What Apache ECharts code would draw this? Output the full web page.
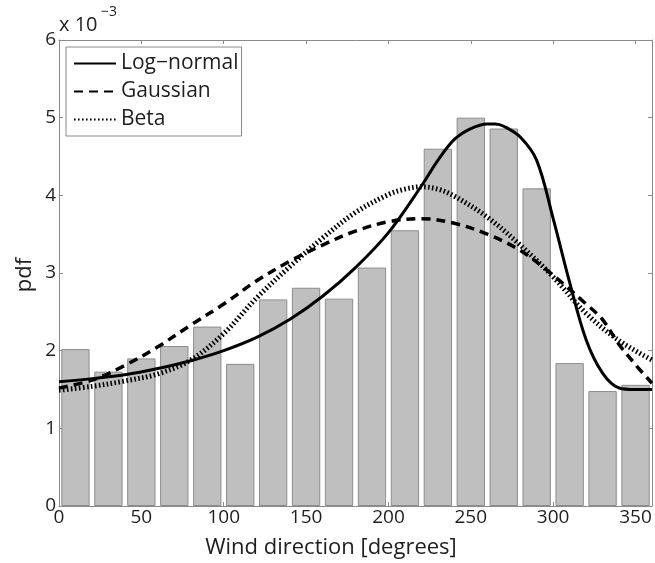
<!DOCTYPE html>
<html><head><meta charset="utf-8">
<script src="https://cdn.jsdelivr.net/npm/echarts@6/dist/echarts.min.js"></script>
<style>html,body{margin:0;padding:0;background:#fff}#c{width:655px;height:563px}</style>
</head><body><div id="c"></div>
<script>
// Histogram (values in units of 1e-3)
const binLabels = ['0-20','20-40','40-60','60-80','80-100','100-120','120-140','140-160','160-180','180-200','200-220','220-240','240-260','260-280','280-300','300-320','320-340','340-360'];
const barValues = [2.02,1.73,1.90,2.06,2.31,1.83,2.66,2.81,2.67,3.07,3.55,4.60,5.00,4.86,4.09,1.84,1.48,1.56];

// Fitted curves (x in degrees, y in units of 1e-3)
const logNormalX = [0,20,40,60,80,100,120,140,160,180,200,220,230,240,250,260,265,270,280,290,300,310,320,330,340,350,360];
const logNormalY = [1.60,1.64,1.69,1.77,1.87,2.00,2.17,2.40,2.70,3.07,3.52,4.12,4.45,4.72,4.86,4.92,4.92,4.89,4.75,4.45,3.70,2.88,2.14,1.71,1.52,1.50,1.50];
const gaussianX = [0,20,40,60,80,100,120,140,160,180,200,220,240,260,280,300,320,330,340,350,360];
const gaussianY = [1.52,1.62,1.81,2.05,2.33,2.60,2.90,3.15,3.36,3.54,3.66,3.70,3.64,3.50,3.29,2.97,2.60,2.40,2.08,1.82,1.58];
const betaX = [0,20,40,60,80,100,120,140,160,180,200,210,220,230,240,260,280,300,320,340,360];
const betaY = [1.49,1.54,1.61,1.70,1.88,2.22,2.68,3.08,3.45,3.78,4.01,4.08,4.11,4.08,3.99,3.72,3.36,2.95,2.48,2.13,1.88];

const xTicks = {min:0, max:360, interval:50};
const yTicks = {min:0, max:6, interval:1};

const FONT = 'Open Sans';
const AXIS = '#8a8a8a';
const TEXT = '#1e1e1e';
const pairs = (xs, ys) => xs.map((x, i) => [x, ys[i]]);

const chart = echarts.init(document.getElementById('c'), null, {renderer:'canvas'});
chart.setOption({
  backgroundColor: '#ffffff',
  animation: false,
  grid: {left: 59, right: 3, top: 40, bottom: 57, containLabel: false},
  legend: {
    data: ['Log−normal','Gaussian','Beta'],
    orient: 'vertical', left: 66, top: 47,
    itemWidth: 42, itemHeight: 14, itemGap: 7,
    padding: [6, 3, 6, 7],
    borderColor: '#8a8a8a', borderWidth: 1, backgroundColor: '#ffffff',
    itemStyle: {color: 'transparent', borderColor: 'transparent', borderWidth: 0, opacity: 0},
    textStyle: {fontFamily: FONT, fontSize: 21, color: TEXT}
  },
  xAxis: [
    {type:'value', min:xTicks.min, max:xTicks.max, interval:xTicks.interval, position:'bottom',
     axisLine:{show:true, onZero:false, lineStyle:{color:AXIS, width:1}},
     axisTick:{show:true, inside:true, length:4, lineStyle:{color:AXIS}},
     axisLabel:{fontFamily:FONT, fontSize:19, color:TEXT, margin:2, showMaxLabel:false},
     splitLine:{show:false}},
    {type:'category', data: binLabels, show:false, boundaryGap:true},
    {type:'value', min:xTicks.min, max:xTicks.max, interval:xTicks.interval, position:'top',
     axisLine:{show:true, onZero:false, lineStyle:{color:AXIS, width:1}},
     axisTick:{show:true, inside:true, length:4, lineStyle:{color:AXIS}},
     axisLabel:{show:false}, splitLine:{show:false}}
  ],
  yAxis: [
    {type:'value', min:yTicks.min, max:yTicks.max, interval:yTicks.interval, position:'left',
     axisLine:{show:true, onZero:false, lineStyle:{color:AXIS, width:1}},
     axisTick:{show:true, inside:true, length:4, lineStyle:{color:AXIS}},
     axisLabel:{fontFamily:FONT, fontSize:19, color:TEXT, margin:3},
     splitLine:{show:false}},
    {type:'value', min:yTicks.min, max:yTicks.max, interval:yTicks.interval, position:'right',
     axisLine:{show:true, onZero:false, lineStyle:{color:AXIS, width:1}},
     axisTick:{show:true, inside:true, length:4, lineStyle:{color:AXIS}},
     axisLabel:{show:false}, splitLine:{show:false}}
  ],
  graphic: [
    {type:'text', left: 59, top: 15, style:{text:'x 10', fontFamily:FONT, fontSize:20, fill:TEXT}},
    {type:'text', left: 101, top: 5, style:{text:'−3', fontFamily:FONT, fontSize:14, fill:TEXT}},
    {type:'text', x: 331, y: 548, style:{text:'Wind direction [degrees]', fontFamily:FONT, fontSize:22, fill:TEXT, align:'center', verticalAlign:'middle'}},
    {type:'text', x: 25, y: 275, rotation: Math.PI/2, style:{text:'pdf', fontFamily:FONT, fontSize:22, fill:TEXT, align:'center', verticalAlign:'middle'}}
  ],
  series: [
    {type:'bar', name:'hist', xAxisIndex:1, yAxisIndex:0, data: barValues, barWidth:'86%',
     itemStyle:{color:'#bfbfbf', borderColor:'#8c8c8c', borderWidth:1}, z:1, silent:true},
    {type:'line', name:'Log−normal', xAxisIndex:0, yAxisIndex:0, data: pairs(logNormalX, logNormalY),
     smooth:0.35, symbol:'none', lineStyle:{color:'#000', width:3, type:'solid'}, itemStyle:{color:'#000'}, z:5},
    {type:'line', name:'Gaussian', xAxisIndex:0, yAxisIndex:0, data: pairs(gaussianX, gaussianY),
     smooth:0.35, symbol:'none', lineStyle:{color:'#000', width:3.5, type:[9,6]}, itemStyle:{color:'#000'}, z:4},
    {type:'line', name:'Beta', xAxisIndex:0, yAxisIndex:0, data: pairs(betaX, betaY),
     smooth:0.35, symbol:'none', lineStyle:{color:'#000', width:5, type:[1.6,2.4]}, itemStyle:{color:'#000'}, z:3}
  ]
});
</script></body></html>
